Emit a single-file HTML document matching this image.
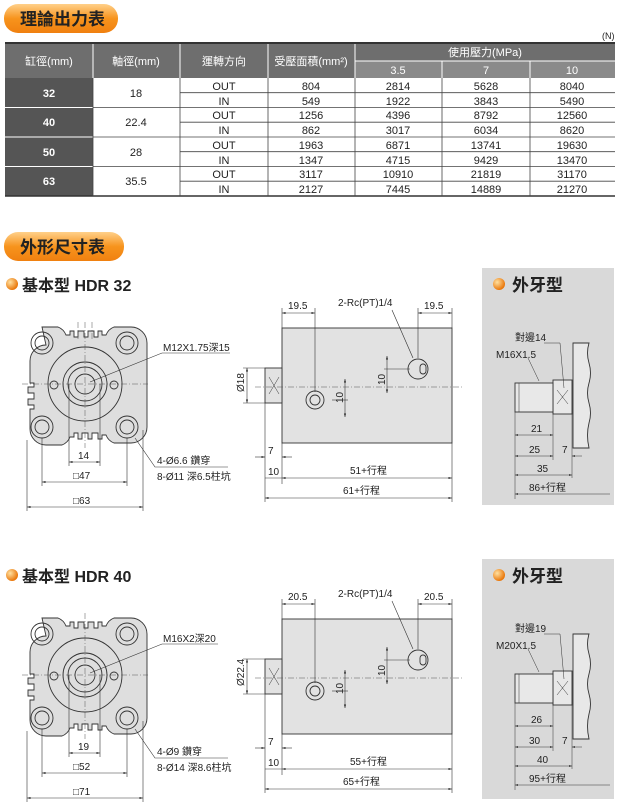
<!DOCTYPE html>
<html><head><meta charset="utf-8"><style>
body{margin:0;width:620px;height:809px;background:#fff;overflow:hidden}
svg{display:block}
text{font-family:"Liberation Sans","Noto Sans CJK TC",sans-serif}
</style></head><body>
<svg width="620" height="809" viewBox="0 0 620 809" xmlns="http://www.w3.org/2000/svg">
<defs>
<linearGradient id="og" x1="0" y1="0" x2="0" y2="1"><stop offset="0" stop-color="#ffd08a"/><stop offset="0.5" stop-color="#f7941d"/><stop offset="1" stop-color="#f08010"/></linearGradient>
<radialGradient id="ball" cx="0.35" cy="0.35" r="0.7"><stop offset="0" stop-color="#ffe0a0"/><stop offset="1" stop-color="#e87000"/></radialGradient>
<marker id="a" markerWidth="6" markerHeight="6" refX="6" refY="3" orient="auto-start-reverse"><path d="M0,1.2 L6,3 L0,4.8z" fill="#222"/></marker>
</defs>
<!-- header pills -->
<rect x="4" y="4" width="114" height="29" rx="14" fill="url(#og)"/>
<text x="20" y="25" font-size="17" font-weight="bold" fill="#222">理論出力表</text>
<rect x="4" y="232" width="120" height="29" rx="14" fill="url(#og)"/>
<text x="20" y="253" font-size="17" font-weight="bold" fill="#222">外形尺寸表</text>
<text x="602" y="39" font-size="9" fill="#222">(N)</text>
<!-- table -->
<g font-size="11" text-anchor="middle">
<rect x="5" y="43" width="610" height="35" fill="#6e6e6e"/>
<rect x="355" y="61" width="260" height="17" fill="#8a8a8a"/>
<rect x="5" y="78" width="88" height="118" fill="#555"/>
<g stroke="#fff" stroke-width="1">
<line x1="93" y1="43" x2="93" y2="78"/><line x1="180" y1="43" x2="180" y2="78"/><line x1="268" y1="43" x2="268" y2="78"/><line x1="355" y1="43" x2="355" y2="78"/>
<line x1="355" y1="61" x2="615" y2="61"/><line x1="442" y1="61" x2="442" y2="78"/><line x1="530" y1="61" x2="530" y2="78"/>
<line x1="5" y1="107.5" x2="93" y2="107.5"/><line x1="5" y1="137" x2="93" y2="137"/><line x1="5" y1="166.5" x2="93" y2="166.5"/>
</g>
<line x1="5" y1="43" x2="615" y2="43" stroke="#333" stroke-width="2"/>
<line x1="5" y1="196" x2="615" y2="196" stroke="#333" stroke-width="1.5"/>
<g stroke="#444" stroke-width="0.8">
<line x1="93" y1="78" x2="93" y2="196"/><line x1="180" y1="78" x2="180" y2="196"/><line x1="268" y1="78" x2="268" y2="196"/><line x1="355" y1="78" x2="355" y2="196"/><line x1="442" y1="78" x2="442" y2="196"/><line x1="530" y1="78" x2="530" y2="196"/>
<line x1="93" y1="107.5" x2="615" y2="107.5"/><line x1="93" y1="137" x2="615" y2="137"/><line x1="93" y1="166.5" x2="615" y2="166.5"/>
<line x1="180" y1="92.7" x2="615" y2="92.7"/><line x1="180" y1="122.2" x2="615" y2="122.2"/><line x1="180" y1="151.7" x2="615" y2="151.7"/><line x1="180" y1="181.2" x2="615" y2="181.2"/>
</g>
<g fill="#fff"><text x="49" y="65">缸徑(mm)</text><text x="136" y="65">軸徑(mm)</text><text x="224" y="65">運轉方向</text><text x="311" y="65">受壓面積(mm²)</text><text x="485" y="56">使用壓力(MPa)</text><text x="398" y="74">3.5</text><text x="486" y="74">7</text><text x="572" y="74">10</text>
<g font-weight="bold"><text x="49" y="97">32</text><text x="49" y="126">40</text><text x="49" y="156">50</text><text x="49" y="185">63</text></g></g>
<g fill="#222"><text x="136" y="97">18</text><text x="136" y="126">22.4</text><text x="136" y="156">28</text><text x="136" y="185">35.5</text>
<text x="224" y="90">OUT</text><text x="224" y="105">IN</text><text x="224" y="119">OUT</text><text x="224" y="134">IN</text><text x="224" y="149">OUT</text><text x="224" y="164">IN</text><text x="224" y="178">OUT</text><text x="224" y="193">IN</text>
<text x="311" y="90">804</text><text x="311" y="105">549</text><text x="311" y="119">1256</text><text x="311" y="134">862</text><text x="311" y="149">1963</text><text x="311" y="164">1347</text><text x="311" y="178">3117</text><text x="311" y="193">2127</text>
<text x="398" y="90">2814</text><text x="398" y="105">1922</text><text x="398" y="119">4396</text><text x="398" y="134">3017</text><text x="398" y="149">6871</text><text x="398" y="164">4715</text><text x="398" y="178">10910</text><text x="398" y="193">7445</text>
<text x="486" y="90">5628</text><text x="486" y="105">3843</text><text x="486" y="119">8792</text><text x="486" y="134">6034</text><text x="486" y="149">13741</text><text x="486" y="164">9429</text><text x="486" y="178">21819</text><text x="486" y="193">14889</text>
<text x="572" y="90">8040</text><text x="572" y="105">5490</text><text x="572" y="119">12560</text><text x="572" y="134">8620</text><text x="572" y="149">19630</text><text x="572" y="164">13470</text><text x="572" y="178">31170</text><text x="572" y="193">21270</text></g>
</g>

<!-- drawing group template -->
<g id="d1">
<circle cx="12" cy="284" r="6" fill="url(#ball)"/>
<rect x="482" y="268" width="132" height="237" fill="#d9d9d9"/>
<circle cx="499" cy="284" r="6" fill="url(#ball)"/>
<text x="512" y="291" font-size="17" font-weight="bold" fill="#222">外牙型</text>
<!-- front view -->
<g stroke="#333" stroke-width="0.9" fill="none">
<path d="M42,327 h16 a14,14 0 0 1 8,8 h4 v-4 h4 v6 h4 v-6 h6 v6 h4 v-6 h6 v6 h4 v-6 h4 v4 h4 a14,14 0 0 1 8,-8 h17 a16,16 0 0 1 16,16 v84 a16,16 0 0 1 -16,16 h-17 a14,14 0 0 1 -8,-8 h-4 v4 h-4 v-6 h-6 v6 h-4 v-6 h-6 v6 h-4 v-6 h-4 v4 h-4 a14,14 0 0 1 -8,8 h-16 a16,16 0 0 1 -16,-16 v-20 h4 v-4 h-6 v-6 h6 v-6 h-6 v-6 h6 v-4 h-4 v-22 a16,16 0 0 1 16,-16z" fill="#dedede"/>
<circle cx="42" cy="343" r="11"/><circle cx="42" cy="343" r="7"/>
<circle cx="127" cy="343" r="11"/><circle cx="127" cy="343" r="7"/>
<circle cx="42" cy="427" r="11"/><circle cx="42" cy="427" r="7"/>
<circle cx="127" cy="427" r="11"/><circle cx="127" cy="427" r="7"/>
<circle cx="85" cy="384" r="37"/><circle cx="85" cy="384" r="22"/><circle cx="85" cy="384" r="17"/><circle cx="85" cy="384" r="10"/>
<circle cx="54" cy="385" r="4"/><circle cx="114" cy="385" r="4"/>
</g>
<g stroke="#555" stroke-width="0.5" stroke-dasharray="6,2,1,2"><line x1="22" y1="384" x2="148" y2="384"/><line x1="85" y1="322" x2="85" y2="448"/><line x1="78" y1="322" x2="78" y2="340"/><line x1="92" y1="322" x2="92" y2="340"/></g>
<g stroke="#333" stroke-width="0.6" fill="none">
<line x1="69" y1="384" x2="69" y2="466"/><line x1="100" y1="384" x2="100" y2="466"/>
<line x1="42" y1="438" x2="42" y2="486"/><line x1="127" y1="438" x2="127" y2="486"/>
<line x1="27" y1="440" x2="27" y2="511"/><line x1="143" y1="430" x2="143" y2="511"/>
<line x1="69" y1="462" x2="100" y2="462" marker-start="url(#a)" marker-end="url(#a)"/>
<line x1="42" y1="482" x2="127" y2="482" marker-start="url(#a)" marker-end="url(#a)"/>
<line x1="27" y1="507" x2="143" y2="507" marker-start="url(#a)" marker-end="url(#a)"/>
<polyline points="90,382 162,353 230,353" /><polyline points="135,438 155,467 228,467"/>
</g>
<g font-size="10" fill="#222"><text x="78" y="459">14</text><text x="73" y="479">□47</text><text x="73" y="504">□63</text>
<text x="163" y="351" class="t1">M12X1.75深15</text><text x="157" y="464" class="t2">4-Ø6.6 鑽穿</text><text x="157" y="480" class="t3">8-Ø11 深6.5柱坑</text></g>
<!-- side view -->
<g stroke="#333" stroke-width="0.9" fill="#e2e2e2">
<rect x="282" y="328" width="170" height="115"/>
<rect x="265" y="368" width="17" height="35"/>
<circle cx="315" cy="400" r="9" fill="none"/><circle cx="315" cy="400" r="5" fill="none"/>
<circle cx="418" cy="369" r="10" fill="none"/><rect x="420" y="364" width="6" height="10" rx="3" fill="none"/>
</g>
<g stroke="#333" stroke-width="0.5"><line x1="269" y1="377" x2="279" y2="394"/><line x1="279" y1="377" x2="269" y2="394"/></g>
<g stroke="#555" stroke-width="0.5" stroke-dasharray="6,2,1,2"><line x1="255" y1="387" x2="462" y2="387"/></g>
<g stroke="#333" stroke-width="0.6" fill="none">
<line x1="282" y1="308" x2="282" y2="328"/><line x1="315" y1="308" x2="315" y2="392"/><line x1="418" y1="308" x2="418" y2="358"/><line x1="452" y1="308" x2="452" y2="328"/>
<line x1="282" y1="313" x2="315" y2="313" marker-start="url(#a)" marker-end="url(#a)"/>
<line x1="418" y1="313" x2="452" y2="313" marker-start="url(#a)" marker-end="url(#a)"/>
<polyline points="392,310 413,358"/>
<line x1="387" y1="356" x2="387" y2="393" marker-start="url(#a)" marker-end="url(#a)"/><line x1="384" y1="369" x2="410" y2="369"/>
<line x1="345" y1="379" x2="345" y2="417" marker-start="url(#a)" marker-end="url(#a)"/><line x1="332" y1="400" x2="348" y2="400"/>
<line x1="265" y1="368" x2="243" y2="368"/><line x1="265" y1="403" x2="243" y2="403"/>
<line x1="247" y1="368" x2="247" y2="403" marker-start="url(#a)" marker-end="url(#a)"/>
<line x1="265" y1="403" x2="265" y2="502"/><line x1="282" y1="443" x2="282" y2="484"/><line x1="452" y1="443" x2="452" y2="502"/>
<line x1="255" y1="457" x2="265" y2="457" marker-end="url(#a)"/><line x1="282" y1="457" x2="292" y2="457" marker-start="url(#a)"/>
<line x1="265" y1="478" x2="282" y2="478"/>
<line x1="282" y1="478" x2="452" y2="478" marker-start="url(#a)" marker-end="url(#a)"/>
<line x1="265" y1="498" x2="452" y2="498" marker-start="url(#a)" marker-end="url(#a)"/>
</g>
<g font-size="10" fill="#222"><text x="288" y="309">19.5</text><text x="424" y="309">19.5</text><text x="338" y="306" class="rc">2-Rc(PT)1/4</text>
<text x="268" y="454">7</text><text x="268" y="475">10</text><text x="350" y="474">51+行程</text><text x="343" y="494">61+行程</text>
<text transform="translate(244,392) rotate(-90)">Ø18</text>
<text transform="translate(385,385) rotate(-90)">10</text><text transform="translate(343,403) rotate(-90)">10</text></g>
<!-- external thread view -->
<g stroke="#333" stroke-width="0.9" fill="#e8e8e8">
<path d="M573,343 h16 q-3,10 0,20 q3,10 0,20 q-3,10 0,20 q3,10 0,20 q-3,12 0,25 h-16z"/>
<rect x="553" y="380" width="19" height="34"/>
<rect x="515" y="383" width="38" height="29"/>
</g>
<g stroke="#333" stroke-width="0.5" fill="none"><line x1="519" y1="383" x2="519" y2="412"/><line x1="557" y1="390" x2="568" y2="404"/><line x1="568" y1="390" x2="557" y2="404"/>
<line x1="515" y1="412" x2="515" y2="499"/><line x1="553" y1="412" x2="553" y2="460"/><line x1="572" y1="414" x2="572" y2="478"/>
<line x1="515" y1="435" x2="553" y2="435" marker-start="url(#a)" marker-end="url(#a)"/>
<line x1="515" y1="456" x2="553" y2="456" marker-start="url(#a)" marker-end="url(#a)"/><line x1="572" y1="456" x2="582" y2="456" marker-start="url(#a)"/>
<line x1="515" y1="475" x2="572" y2="475" marker-start="url(#a)" marker-end="url(#a)"/>
<line x1="515" y1="494" x2="610" y2="494" marker-start="url(#a)"/>
<polyline points="528,358 539,381"/><polyline points="544,343 560,343 564,388"/>
</g>
<g font-size="10" fill="#222"><text x="531" y="432">21</text><text x="529" y="453">25</text><text x="562" y="453">7</text><text x="537" y="472">35</text><text x="529" y="491">86+行程</text>
<text x="515" y="341">對邊14</text><text x="496" y="358">M16X1.5</text></g>
</g>
<!-- HDR labels -->
<text x="22" y="291" font-size="16" font-weight="bold" fill="#222">基本型  HDR 32</text>
<rect x="0" y="540" width="620" height="269" fill="#fff"/>
<g transform="translate(0,291)">
<circle cx="12" cy="284" r="6" fill="url(#ball)"/>
<rect x="482" y="268" width="132" height="240" fill="#d9d9d9"/>
<circle cx="499" cy="284" r="6" fill="url(#ball)"/>
<text x="512" y="291" font-size="17" font-weight="bold" fill="#222">外牙型</text>
<text x="22" y="291" font-size="16" font-weight="bold" fill="#222">基本型  HDR 40</text>
</g>
<g transform="translate(0,291)">
<g stroke="#333" stroke-width="0.9" fill="none">
<path d="M42,327 h16 a14,14 0 0 1 8,8 h4 v-4 h4 v6 h4 v-6 h6 v6 h4 v-6 h6 v6 h4 v-6 h4 v4 h4 a14,14 0 0 1 8,-8 h17 a16,16 0 0 1 16,16 v84 a16,16 0 0 1 -16,16 h-17 a14,14 0 0 1 -8,-8 h-4 v4 h-4 v-6 h-6 v6 h-4 v-6 h-6 v6 h-4 v-6 h-4 v4 h-4 a14,14 0 0 1 -8,8 h-16 a16,16 0 0 1 -16,-16 v-20 h4 v-4 h-6 v-6 h6 v-6 h-6 v-6 h6 v-4 h-4 v-22 a16,16 0 0 1 16,-16z" fill="#dedede"/>
<circle cx="42" cy="343" r="11"/><circle cx="42" cy="343" r="7"/><circle cx="127" cy="343" r="11"/><circle cx="127" cy="343" r="7"/>
<circle cx="42" cy="427" r="11"/><circle cx="42" cy="427" r="7"/><circle cx="127" cy="427" r="11"/><circle cx="127" cy="427" r="7"/>
<circle cx="85" cy="384" r="37"/><circle cx="85" cy="384" r="22"/><circle cx="85" cy="384" r="17"/><circle cx="85" cy="384" r="10"/>
<circle cx="54" cy="385" r="4"/><circle cx="114" cy="385" r="4"/>
</g>
<g stroke="#555" stroke-width="0.5" stroke-dasharray="6,2,1,2"><line x1="22" y1="384" x2="148" y2="384"/><line x1="85" y1="322" x2="85" y2="448"/></g>
<g stroke="#333" stroke-width="0.6" fill="none">
<line x1="69" y1="384" x2="69" y2="466"/><line x1="100" y1="384" x2="100" y2="466"/>
<line x1="42" y1="438" x2="42" y2="486"/><line x1="127" y1="438" x2="127" y2="486"/>
<line x1="27" y1="440" x2="27" y2="511"/><line x1="143" y1="430" x2="143" y2="511"/>
<line x1="69" y1="462" x2="100" y2="462" marker-start="url(#a)" marker-end="url(#a)"/>
<line x1="42" y1="482" x2="127" y2="482" marker-start="url(#a)" marker-end="url(#a)"/>
<line x1="27" y1="507" x2="143" y2="507" marker-start="url(#a)" marker-end="url(#a)"/>
<polyline points="90,382 162,353 218,353"/><polyline points="135,438 155,467 228,467"/>
</g>
<g font-size="10" fill="#222"><text x="78" y="459">19</text><text x="73" y="479">□52</text><text x="73" y="504">□71</text>
<text x="163" y="351">M16X2深20</text><text x="157" y="464">4-Ø9 鑽穿</text><text x="157" y="480">8-Ø14 深8.6柱坑</text></g>
<g stroke="#333" stroke-width="0.9" fill="#e2e2e2">
<rect x="282" y="328" width="170" height="115"/><rect x="265" y="368" width="17" height="35"/>
<circle cx="315" cy="400" r="9" fill="none"/><circle cx="315" cy="400" r="5" fill="none"/>
<circle cx="418" cy="369" r="10" fill="none"/><rect x="420" y="364" width="6" height="10" rx="3" fill="none"/>
</g>
<g stroke="#333" stroke-width="0.5"><line x1="269" y1="377" x2="279" y2="394"/><line x1="279" y1="377" x2="269" y2="394"/></g>
<g stroke="#555" stroke-width="0.5" stroke-dasharray="6,2,1,2"><line x1="255" y1="387" x2="462" y2="387"/></g>
<g stroke="#333" stroke-width="0.6" fill="none">
<line x1="282" y1="308" x2="282" y2="328"/><line x1="315" y1="308" x2="315" y2="392"/><line x1="418" y1="308" x2="418" y2="358"/><line x1="452" y1="308" x2="452" y2="328"/>
<line x1="282" y1="313" x2="315" y2="313" marker-start="url(#a)" marker-end="url(#a)"/>
<line x1="418" y1="313" x2="452" y2="313" marker-start="url(#a)" marker-end="url(#a)"/>
<polyline points="392,310 413,358"/>
<line x1="387" y1="356" x2="387" y2="393" marker-start="url(#a)" marker-end="url(#a)"/><line x1="384" y1="369" x2="410" y2="369"/>
<line x1="345" y1="379" x2="345" y2="417" marker-start="url(#a)" marker-end="url(#a)"/><line x1="332" y1="400" x2="348" y2="400"/>
<line x1="265" y1="368" x2="243" y2="368"/><line x1="265" y1="403" x2="243" y2="403"/>
<line x1="247" y1="368" x2="247" y2="403" marker-start="url(#a)" marker-end="url(#a)"/>
<line x1="265" y1="403" x2="265" y2="502"/><line x1="282" y1="443" x2="282" y2="484"/><line x1="452" y1="443" x2="452" y2="502"/>
<line x1="255" y1="457" x2="265" y2="457" marker-end="url(#a)"/><line x1="282" y1="457" x2="292" y2="457" marker-start="url(#a)"/>
<line x1="265" y1="478" x2="282" y2="478"/>
<line x1="282" y1="478" x2="452" y2="478" marker-start="url(#a)" marker-end="url(#a)"/>
<line x1="265" y1="498" x2="452" y2="498" marker-start="url(#a)" marker-end="url(#a)"/>
</g>
<g font-size="10" fill="#222"><text x="288" y="309">20.5</text><text x="424" y="309">20.5</text><text x="338" y="306">2-Rc(PT)1/4</text>
<text x="268" y="454">7</text><text x="268" y="475">10</text><text x="350" y="474">55+行程</text><text x="343" y="494">65+行程</text>
<text transform="translate(244,395) rotate(-90)">Ø22.4</text>
<text transform="translate(385,385) rotate(-90)">10</text><text transform="translate(343,403) rotate(-90)">10</text></g>
<g stroke="#333" stroke-width="0.9" fill="#e8e8e8">
<path d="M573,343 h16 q-3,10 0,20 q3,10 0,20 q-3,10 0,20 q3,10 0,20 q-3,12 0,25 h-16z"/>
<rect x="553" y="380" width="19" height="34"/><rect x="515" y="383" width="38" height="29"/>
</g>
<g stroke="#333" stroke-width="0.5" fill="none"><line x1="519" y1="383" x2="519" y2="412"/><line x1="557" y1="390" x2="568" y2="404"/><line x1="568" y1="390" x2="557" y2="404"/>
<line x1="515" y1="412" x2="515" y2="499"/><line x1="553" y1="412" x2="553" y2="460"/><line x1="572" y1="414" x2="572" y2="478"/>
<line x1="515" y1="435" x2="553" y2="435" marker-start="url(#a)" marker-end="url(#a)"/>
<line x1="515" y1="456" x2="553" y2="456" marker-start="url(#a)" marker-end="url(#a)"/><line x1="572" y1="456" x2="582" y2="456" marker-start="url(#a)"/>
<line x1="515" y1="475" x2="572" y2="475" marker-start="url(#a)" marker-end="url(#a)"/>
<line x1="515" y1="494" x2="610" y2="494" marker-start="url(#a)"/>
<polyline points="528,358 539,381"/><polyline points="544,343 560,343 564,388"/>
</g>
<g font-size="10" fill="#222"><text x="531" y="432">26</text><text x="529" y="453">30</text><text x="562" y="453">7</text><text x="537" y="472">40</text><text x="529" y="491">95+行程</text>
<text x="515" y="341">對邊19</text><text x="496" y="358">M20X1.5</text></g>
</g>
</svg>
</body></html>
